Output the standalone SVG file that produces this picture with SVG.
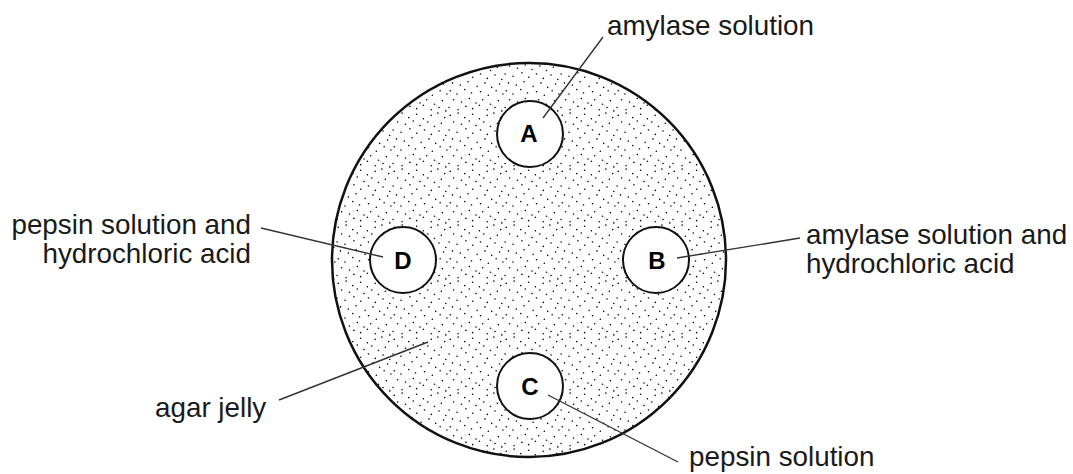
<svg xmlns="http://www.w3.org/2000/svg" width="1073" height="474" viewBox="0 0 1073 474">
<style>
.lbl{font-family:"Liberation Sans",Arial,sans-serif;font-size:27.8px;fill:#1a1a1a}
.let{font-family:"Liberation Sans",Arial,sans-serif;font-size:24px;font-weight:bold;fill:#000;text-anchor:middle}
.well{fill:#fff;stroke:#111;stroke-width:2}
.conn line{stroke:#333;stroke-width:1.4;fill:none}
</style>
<defs>
<pattern id="stip" width="50" height="50" patternUnits="userSpaceOnUse" patternTransform="scale(1.12)">
<g fill="#000">
<circle cx="2" cy="3" r="0.7"/><circle cx="9" cy="1" r="0.7"/><circle cx="15" cy="5" r="0.7"/><circle cx="22" cy="2" r="0.7"/><circle cx="28" cy="6" r="0.7"/><circle cx="35" cy="3" r="0.7"/><circle cx="41" cy="1" r="0.7"/><circle cx="47" cy="5" r="0.7"/>
<circle cx="5" cy="9" r="0.7"/><circle cx="12" cy="11" r="0.7"/><circle cx="19" cy="8" r="0.7"/><circle cx="25" cy="12" r="0.7"/><circle cx="32" cy="9" r="0.7"/><circle cx="38" cy="13" r="0.7"/><circle cx="44" cy="10" r="0.7"/>
<circle cx="1" cy="16" r="0.7"/><circle cx="8" cy="18" r="0.7"/><circle cx="16" cy="15" r="0.7"/><circle cx="22" cy="19" r="0.7"/><circle cx="29" cy="16" r="0.7"/><circle cx="35" cy="20" r="0.7"/><circle cx="42" cy="17" r="0.7"/><circle cx="48" cy="21" r="0.7"/>
<circle cx="4" cy="24" r="0.7"/><circle cx="11" cy="26" r="0.7"/><circle cx="18" cy="23" r="0.7"/><circle cx="26" cy="27" r="0.7"/><circle cx="33" cy="24" r="0.7"/><circle cx="39" cy="28" r="0.7"/><circle cx="46" cy="25" r="0.7"/>
<circle cx="2" cy="31" r="0.7"/><circle cx="8" cy="34" r="0.7"/><circle cx="15" cy="30" r="0.7"/><circle cx="21" cy="33" r="0.7"/><circle cx="29" cy="32" r="0.7"/><circle cx="36" cy="35" r="0.7"/><circle cx="43" cy="31" r="0.7"/><circle cx="49" cy="34" r="0.7"/>
<circle cx="5" cy="39" r="0.7"/><circle cx="12" cy="41" r="0.7"/><circle cx="19" cy="38" r="0.7"/><circle cx="25" cy="42" r="0.7"/><circle cx="31" cy="39" r="0.7"/><circle cx="38" cy="43" r="0.7"/><circle cx="45" cy="40" r="0.7"/>
<circle cx="1" cy="46" r="0.7"/><circle cx="9" cy="48" r="0.7"/><circle cx="16" cy="45" r="0.7"/><circle cx="22" cy="47" r="0.7"/><circle cx="28" cy="44" r="0.7"/><circle cx="35" cy="48" r="0.7"/><circle cx="42" cy="46" r="0.7"/><circle cx="48" cy="49" r="0.7"/>
</g>
</pattern>
</defs>
<rect width="1073" height="474" fill="#fff"/>
<g id="agar">
<circle cx="529" cy="260" r="197" fill="#fff"/>
<circle cx="529" cy="260" r="197" fill="url(#stip)" stroke="#111" stroke-width="2.5"/>
</g>
<g id="well-A"><circle class="well" cx="530" cy="134" r="33"/><text class="let" x="529" y="142">A</text></g>
<g id="well-B"><circle class="well" cx="656" cy="260" r="33"/><text class="let" x="657" y="269">B</text></g>
<g id="well-C"><circle class="well" cx="530" cy="386" r="33"/><text class="let" x="530" y="395">C</text></g>
<g id="well-D"><circle class="well" cx="403" cy="260" r="33"/><text class="let" x="403" y="269">D</text></g>
<g class="conn" id="connectors">
<line x1="603" y1="37" x2="543" y2="118"/>
<line x1="261" y1="228" x2="383" y2="257"/>
<line x1="677" y1="258" x2="800" y2="238"/>
<line x1="279" y1="400" x2="428" y2="342"/>
<line x1="548" y1="395" x2="678" y2="462"/>
</g>
<g id="labels">
<text class="lbl" x="607" y="35">amylase solution</text>
<text class="lbl" x="251" y="234" text-anchor="end">pepsin solution and</text>
<text class="lbl" x="251" y="263" text-anchor="end">hydrochloric acid</text>
<text class="lbl" x="806" y="244">amylase solution and</text>
<text class="lbl" x="806" y="273">hydrochloric acid</text>
<text class="lbl" x="155" y="417">agar jelly</text>
<text class="lbl" x="689" y="466">pepsin solution</text>
</g>
</svg>
